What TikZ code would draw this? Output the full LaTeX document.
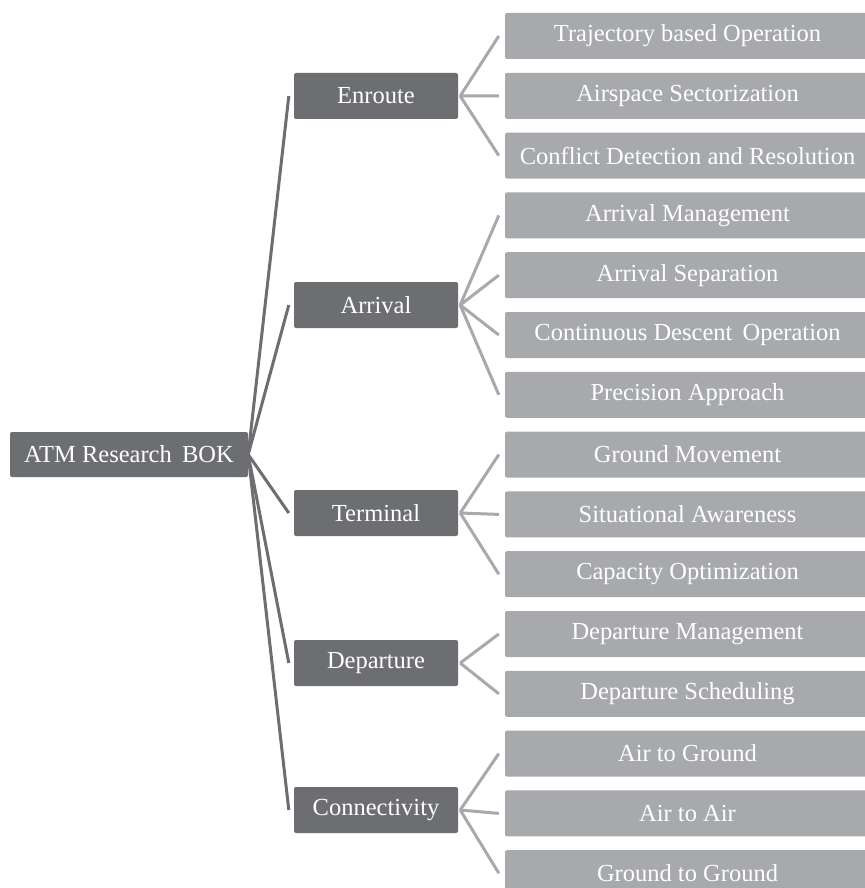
\documentclass[tikz,border=0pt]{standalone}
\usepackage{fontspec}
\setmainfont{Liberation Serif}
\definecolor{darkbox}{HTML}{6D6E71}
\definecolor{lightbox}{HTML}{A7A9AC}
\begin{document}
\begin{tikzpicture}[x=1pt,y=-1pt,
  boxfont/.style={font=\fontsize{24.5}{26}\selectfont},
  rootbox/.style={rectangle, rounded corners=2pt, fill=darkbox, text=white, minimum width=238pt, minimum height=45pt, inner sep=0pt, boxfont},
  midbox/.style={rectangle, rounded corners=2pt, fill=darkbox, text=white, minimum width=164pt, minimum height=46pt, inner sep=0pt, boxfont},
  leafbox/.style={rectangle, rounded corners=2pt, fill=lightbox, text=white, minimum width=365pt, minimum height=46pt, inner sep=0pt, boxfont},
  rootline/.style={draw=darkbox, line width=3pt},
  leafline/.style={draw=lightbox, line width=3pt}]
\useasboundingbox (0,0) rectangle (864,888);
\fill[white] (0,0) rectangle (864,888);
\node[rootbox] (root) at (129,454.5) {ATM Research\, BOK};
\node[midbox] (m1) at (376,96) {Enroute};
\node[midbox] (m2) at (376,305) {Arrival};
\node[midbox] (m3) at (376,513) {Terminal};
\node[midbox] (m4) at (376,663) {Departure};
\node[midbox] (m5) at (376,810) {Connectivity};
\node[leafbox] (l0) at (687.5,36) {Trajectory based Operation};
\node[leafbox] (l1) at (687.5,95.8) {Airspace Sectorization};
\node[leafbox] (l2) at (687.5,155.6) {Conflict Detection and Resolution};
\node[leafbox] (l3) at (687.5,215.4) {Arrival Management};
\node[leafbox] (l4) at (687.5,275.2) {Arrival Separation};
\node[leafbox] (l5) at (687.5,335) {Continuous Descent\, Operation};
\node[leafbox] (l6) at (687.5,394.8) {Precision Approach};
\node[leafbox] (l7) at (687.5,454.6) {Ground Movement};
\node[leafbox] (l8) at (687.5,514.4) {Situational Awareness};
\node[leafbox] (l9) at (687.5,574.2) {Capacity Optimization};
\node[leafbox] (l10) at (687.5,634) {Departure Management};
\node[leafbox] (l11) at (687.5,693.8) {Departure Scheduling};
\node[leafbox] (l12) at (687.5,753.6) {Air to Ground};
\node[leafbox] (l13) at (687.5,813.4) {Air to Air};
\node[leafbox] (l14) at (687.5,873.2) {Ground to Ground};
\foreach \m in {m1,m2,m3,m4,m5}
  \draw[rootline] (root.east) -- ([xshift=-5pt]\m.west);
\foreach \m/\l in {m1/l0,m1/l1,m1/l2,m2/l3,m2/l4,m2/l5,m2/l6,m3/l7,m3/l8,m3/l9,m4/l10,m4/l11,m5/l12,m5/l13,m5/l14}
  \draw[leafline] ([xshift=2pt]\m.east) -- ([xshift=-6pt]\l.west);
\end{tikzpicture}
\end{document}
